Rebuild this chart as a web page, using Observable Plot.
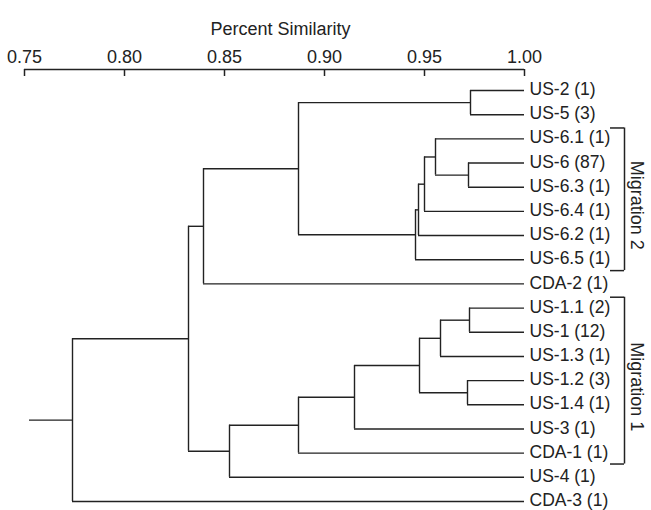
<!DOCTYPE html>
<html><head><meta charset="utf-8">
<script src="https://cdn.jsdelivr.net/npm/d3@7"></script>
<script src="https://cdn.jsdelivr.net/npm/@observablehq/plot@0.6"></script>
<style>
body{margin:0;background:#fff}
#chart svg{font-family:"Liberation Sans",Arial,sans-serif}
</style>
</head><body><div id="chart"></div>
<script>
// Leaves (top to bottom)
const leaves = ["US-2 (1)", "US-5 (3)", "US-6.1 (1)", "US-6 (87)", "US-6.3 (1)", "US-6.4 (1)", "US-6.2 (1)", "US-6.5 (1)", "CDA-2 (1)", "US-1.1 (2)", "US-1 (12)", "US-1.3 (1)", "US-1.2 (3)", "US-1.4 (1)", "US-3 (1)", "CDA-1 (1)", "US-4 (1)", "CDA-3 (1)"];
const leafSimilarity = 1.00;
// Internal nodes: id, left child, right child, similarity at which they join
const nodeIds   = ["A", "B", "C", "D", "E", "F", "G", "H", "I", "J", "K", "L", "M", "N", "O", "P", "R"];
const nodeLeft  = ["US-2 (1)", "US-6 (87)", "US-6.1 (1)", "C", "D", "E", "A", "G", "US-1.1 (2)", "I", "US-1.2 (3)", "J", "L", "M", "N", "H", "P"];
const nodeRight = ["US-5 (3)", "US-6.3 (1)", "B", "US-6.4 (1)", "US-6.2 (1)", "US-6.5 (1)", "F", "CDA-2 (1)", "US-1 (12)", "US-1.3 (1)", "US-1.4 (1)", "K", "US-3 (1)", "CDA-1 (1)", "US-4 (1)", "O", "CDA-3 (1)"];
const nodeSim   = [0.973, 0.972, 0.9555, 0.950, 0.947, 0.9455, 0.887, 0.8395, 0.9725, 0.958, 0.9715, 0.9475, 0.915, 0.887, 0.8525, 0.832, 0.774];
const rootStubStart = 0.7525;
// Axis
const xTicks = [0.75, 0.80, 0.85, 0.90, 0.95, 1.00];
const xDomain = [0.75, 1.00];
const axisTitle = "Percent Similarity";
// Groups (brackets)
const groupLabels = ["Migration 2", "Migration 1"];
const groupFirst  = ["US-6.1 (1)", "US-1.1 (2)"];
const groupLast   = ["US-6.5 (1)", "CDA-1 (1)"];

// ---- layout ----
const W = 651, H = 510;
const mTop = 69, mBottom = 9, mLeft = 24, mRight = 127;
const firstLeafPx = 90;
const n = leaves.length - 1;
const plotH = H - mTop - mBottom;
const d0 = n * (firstLeafPx - mTop) / (plotH - (firstLeafPx - mTop));
const yTop = -d0;
const pxPerY = plotH / (n + d0);
const pxPerX = (W - mLeft - mRight) / (xDomain[1] - xDomain[0]);

// ---- tree positions ----
const pos = new Map();
leaves.forEach((l, i) => pos.set(l, {x: leafSimilarity, y: i}));
const vSegs = [], hSegs = [];
nodeIds.forEach((id, k) => {
  const a = pos.get(nodeLeft[k]), b = pos.get(nodeRight[k]);
  const s = nodeSim[k];
  vSegs.push({x: s, y1: a.y, y2: b.y});
  hSegs.push({y: a.y, x1: s, x2: a.x});
  hSegs.push({y: b.y, x1: s, x2: b.x});
  pos.set(id, {x: s, y: (a.y + b.y) / 2});
});
const root = pos.get(nodeIds[nodeIds.length - 1]);
hSegs.push({y: root.y, x1: rootStubStart, x2: root.x});

const groups = groupLabels.map((g, i) => ({
  label: g,
  top: leaves.indexOf(groupFirst[i]) - 0.45,
  bottom: leaves.indexOf(groupLast[i]) + 0.45
}));

const ink = "#222";
const bx = 1.00 + 100 / pxPerX, bxIn = 1.00 + 86 / pxPerX;

const chart = Plot.plot({
  width: W, height: H,
  marginTop: mTop, marginBottom: mBottom, marginLeft: mLeft, marginRight: mRight,
  style: {fontSize: "18px", fontFamily: "'Liberation Sans', Arial, sans-serif", color: ink, background: "#fff", overflow: "visible"},
  x: {domain: xDomain},
  y: {domain: [yTop, n], range: [mTop, H - mBottom], axis: null},
  marks: [
    Plot.axisX({anchor: "top", ticks: xTicks, tickFormat: d3.format(".2f"), tickSize: 0, tickPadding: 7, label: null, fontSize: 18}),
    Plot.ruleY([yTop], {y: d => d, x1: xDomain[0], x2: xDomain[1], stroke: ink, strokeWidth: 1.5}),
    Plot.ruleX(xTicks, {x: d => d, y1: yTop, y2: yTop + 7 / pxPerY, stroke: ink, strokeWidth: 1.5}),
    Plot.text([axisTitle], {frameAnchor: "top", dx: 6, dy: -47, fontSize: 18, fill: ink}),
    Plot.ruleX(vSegs, {x: "x", y1: "y1", y2: "y2", stroke: ink, strokeWidth: 1.4}),
    Plot.ruleY(hSegs, {y: "y", x1: "x1", x2: "x2", stroke: ink, strokeWidth: 1.4}),
    Plot.text(leaves, {x: leafSimilarity, y: (d, i) => i, text: d => d, textAnchor: "start", dx: 5, dy: -1, fontSize: 17.5, fill: ink}),
    Plot.ruleX(groups, {x: bx, y1: "top", y2: "bottom", stroke: ink, strokeWidth: 1.5}),
    Plot.ruleY(groups, {y: "top", x1: bxIn, x2: bx, stroke: ink, strokeWidth: 1.5}),
    Plot.ruleY(groups, {y: "bottom", x1: bxIn, x2: bx, stroke: ink, strokeWidth: 1.5}),
    Plot.text(groups, {x: bx, y: d => (d.top + d.bottom) / 2 + 0.25, text: "label", rotate: 90, dx: 12, fontSize: 18, fill: ink})
  ]
});
document.getElementById("chart").appendChild(chart);
</script>
</body></html>
